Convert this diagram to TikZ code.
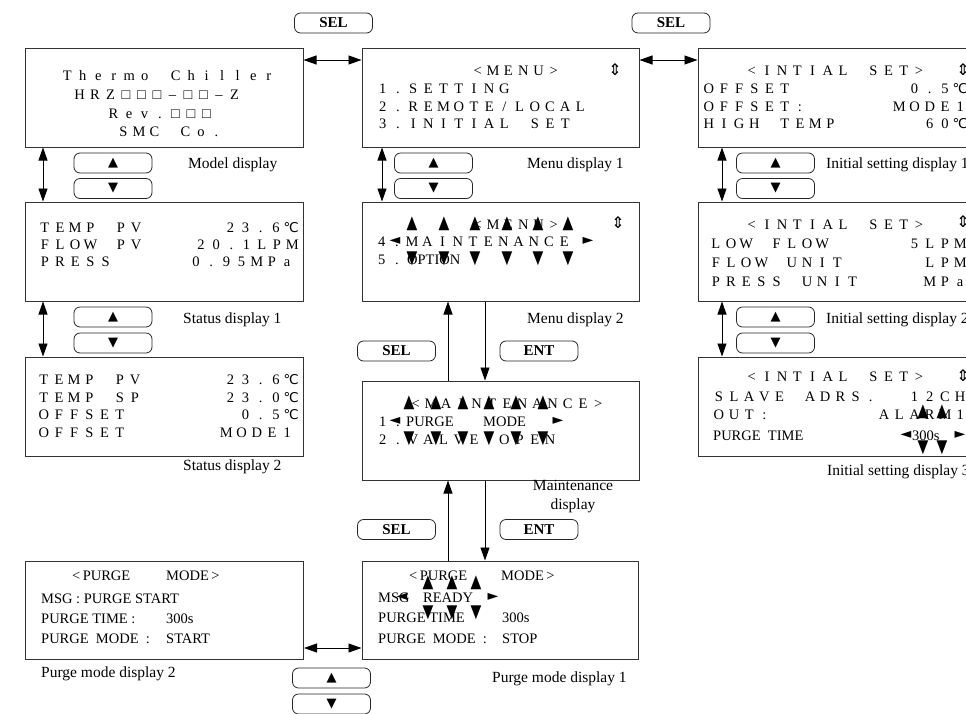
\documentclass[tikz,border=0pt]{standalone}
\usepackage{fontspec}
\setmainfont{Liberation Serif}
\newfontfamily\symf{DejaVu Sans}
\usetikzlibrary{arrows.meta}

% one LCD character per fixed cell
\ExplSyntaxOn
\NewDocumentCommand\fw{O{15.2pt}m}{\str_map_inline:nn{#2}{\makebox[#1][c]{##1}}}
\ExplSyntaxOff
\newcommand\dC{\makebox[15.2pt][c]{\symf\fontsize{13.5}{14}\selectfont ℃}}
\newcommand\updn{{\symf\fontsize{16}{16}\selectfont ⇕}}
\newcommand\tall[1]{\scalebox{1}[1.3]{#1}}

\begin{document}
\begin{tikzpicture}[x=1pt,y=-1pt,
  >={Triangle[length=13pt,width=9pt]},
  disp/.style={draw=black!80, line width=1pt, minimum width=278pt, minimum height=99pt, inner sep=0pt},
  btn/.style={draw=black!85, line width=0.8pt, rounded corners=6pt, minimum width=78pt, minimum height=20pt, inner sep=0pt, font=\symf\fontsize{13}{13}\selectfont},
  key/.style={btn, font=\bfseries\fontsize{15}{15}\selectfont},
  lcd/.style={anchor=base west, inner sep=0pt, font=\fontsize{14.5}{16}\selectfont},
  lcdr/.style={lcd, anchor=base east},
  lcdc/.style={lcd, anchor=base},
  txt/.style={anchor=base west, inner sep=0pt, font=\fontsize{14.5}{16}\selectfont},
  lbl/.style={anchor=base west, inner sep=0pt, font=\fontsize{15.5}{19}\selectfont},
  blink/.style={inner sep=0pt, font=\symf\fontsize{14}{14}\selectfont},
  link/.style={line width=0.9pt}]
\useasboundingbox (0,0) rectangle (966,713);
\clip (0,0) rectangle (966,713);

% display frames
\node[disp] (model) at (164,97.5) {};
\node[disp] (statA) at (164,251.5) {};
\node[disp] (statB) at (164,406.5) {};
\node[disp, minimum height=98pt] (purgeB) at (164.5,610) {};
\node[disp, minimum width=277pt] (menuA) at (500.5,97.5) {};
\node[disp, minimum width=277pt] (menuB) at (500.5,251.5) {};
\node[disp, minimum width=277pt] (maint) at (500.5,430.5) {};
\node[disp, minimum width=276pt, minimum height=98pt] (purgeA) at (500,610) {};
\node[disp, minimum width=292pt] (initA) at (844,97.5) {};
\node[disp, minimum width=292pt] (initB) at (844,251.5) {};
\node[disp, minimum width=292pt] (initC) at (844,406.5) {};

% keys
\node[key] (selT1) at (333.5,23) {SEL};
\node[key] (selT2) at (671,23) {SEL};
\node[key] (selM1) at (396.5,351) {SEL};
\node[key] (entM1) at (539,351) {ENT};
\node[key] (selM2) at (396.5,529.5) {SEL};
\node[key] (entM2) at (539,529.5) {ENT};
\node[btn] (mdlUp) at (113,163) {▲};
\node[btn] (mdlDn) at (113,188.5) {▼};
\node[btn] (stsUp) at (113,317) {▲};
\node[btn] (stsDn) at (113,343) {▼};
\node[btn] (mnuUp) at (433.5,163) {▲};
\node[btn] (mnuDn) at (433.5,188.5) {▼};
\node[btn] (iniUp1) at (775.5,163) {▲};
\node[btn] (iniDn1) at (775.5,188.5) {▼};
\node[btn] (iniUp2) at (775.5,317) {▲};
\node[btn] (iniDn2) at (775.5,343) {▼};
\node[btn] (prgUp) at (331.5,678) {▲};
\node[btn] (prgDn) at (331.5,704) {▼};

% connectors
\coordinate (rowT) at (0,60);
\coordinate (rowB) at (0,648);
\coordinate (colL) at (43,0);
\coordinate (colM) at (382,0);
\coordinate (colR) at (722,0);
\coordinate (colS) at (448,0);
\coordinate (colE) at (485,0);
\draw[link,<->] (model.east |- rowT) -- (menuA.west |- rowT);
\draw[link,<->] (menuA.east |- rowT) -- (initA.west |- rowT);
\draw[link,<->] (purgeB.east |- rowB) -- (purgeA.west |- rowB);
\draw[link,<->] (model.south -| colL) -- (statA.north -| colL);
\draw[link,<->] (statA.south -| colL) -- (statB.north -| colL);
\draw[link,<->] (menuA.south -| colM) -- (menuB.north -| colM);
\draw[link,<->] (initA.south -| colR) -- (initB.north -| colR);
\draw[link,<->] (initB.south -| colR) -- (initC.north -| colR);
\draw[link,->] (maint.north -| colS) -- (menuB.south -| colS);
\draw[link,->] (menuB.south -| colE) -- (maint.north -| colE);
\draw[link,->] (purgeA.north -| colS) -- (maint.south -| colS);
\draw[link,->] (maint.south -| colE) -- (purgeA.north -| colE);

% model display
\node[lcdc] (mdl1) at (168,80) {\fw[15.5pt]{Thermo Chiller}};
\node[lcdc] (mdl2) at (157,99) {\fw[15.5pt]{HRZ□□□–□□–Z}};
\node[lcdc] (mdl3) at (160,118) {\fw[15.5pt]{Rev.□□□}};
\node[lcdc] (mdl4) at (170,136) {\fw[15.5pt]{SMC Co.}};

% status displays
\node[lcd] (stA1) at (37,232) {\fw{TEMP PV}};
\node[lcdr] (stA1v) at (299,232) {\fw{23.6}\dC};
\node[lcd] (stA2) at (37,249) {\fw{FLOW PV}};
\node[lcdr] (stA2v) at (300,249) {\fw{20.1LPM}};
\node[lcd] (stA3) at (37,266) {\fw{PRESS}};
\node[lcdr] (stA3v) at (295,266) {\fw{0.95MPa}};
\node[lcd] (stB1) at (36,384) {\fw{TEMP PV}};
\node[lcdr] (stB1v) at (299,384) {\fw{23.6}\dC};
\node[lcd] (stB2) at (36,402) {\fw{TEMP SP}};
\node[lcdr] (stB2v) at (299,402) {\fw{23.0}\dC};
\node[lcd] (stB3) at (36,419) {\fw{OFFSET}};
\node[lcdr] (stB3v) at (299,419) {\fw{0.5}\dC};
\node[lcd] (stB4) at (36,437) {\fw{OFFSET}};
\node[lcdr] (stB4v) at (295,437) {\fw{MODE1}};

% menu displays
\node[lcd] (mnA0) at (470,75) {\fw{<MENU>}};
\node (mnAud) at (615,70) {\updn};
\node[lcd] (mnA1) at (375,93) {\fw{1.SETTING}};
\node[lcd] (mnA2) at (375,111) {\fw{2.REMOTE/LOCAL}};
\node[lcd] (mnA3) at (375,128) {\fw{3.INITIAL  SET}};
\node[lcd] (mnB0) at (470,229) {\fw{<MENU>}};
\node (mnBud) at (618,223) {\updn};
\node[lcd] (mnB1) at (374,246) {\fw{4.MAINTENANCE}};
\node[lcd] (mnB2) at (374,264) {\fw{5.}};
\node[txt] (mnB2t) at (407,264) {OPTION};

% maintenance display
\node[lcd] (mt0) at (408,408) {\fw{<MAINTENANCE>}};
\node[lcd] (mt1) at (375,426) {\fw{1.}};
\node[txt] (mt1a) at (406,426) {PURGE};
\node[txt] (mt1b) at (483,426) {MODE};
\node[lcd] (mt2) at (375,444) {\fw{2.VALVE OPEN}};

% initial setting displays
\node[lcd] (inA0) at (744,75) {\fw{<INTIAL  SET>}};
\node (inAud) at (963,70) {\updn};
\node[lcd] (inA1) at (701,93) {\fw{OFFSET}};
\node[lcdr] (inA1v) at (968,93) {\fw{0.5}\dC};
\node[lcd] (inA2) at (701,111) {\fw{OFFSET:}};
\node[lcdr] (inA2v) at (968,111) {\fw{MODE1}};
\node[lcd] (inA3) at (701,128) {\fw{HIGH TEMP}};
\node[lcdr] (inA3v) at (968,128) {\fw{60}\dC};
\node[lcd] (inB0) at (744,229) {\fw{<INTIAL  SET>}};
\node (inBud) at (963,222) {\updn};
\node[lcd] (inB1) at (708,248) {\fw{LOW FLOW}};
\node[lcdr] (inB1v) at (968,248) {\fw{5LPM}};
\node[lcd] (inB2) at (708,267) {\fw{FLOW UNIT}};
\node[lcdr] (inB2v) at (968,267) {\fw{LPM}};
\node[lcd] (inB3) at (708,286) {\fw{PRESS UNIT}};
\node[lcdr] (inB3v) at (968,286) {\fw{MPa}};
\node[lcd] (inC0) at (744,381) {\fw{<INTIAL  SET>}};
\node (inCud) at (963,376) {\updn};
\node[lcd] (inC1) at (711,401) {\fw{SLAVE ADRS.}};
\node[lcdr] (inC1v) at (968,401) {\fw{12CH}};
\node[lcd] (inC2) at (711,419) {\fw{OUT:}};
\node[lcdr] (inC2v) at (968,419) {\fw{ALARM1}};
\node[txt] (inC3) at (713,440) {PURGE\ \ TIME};
\node[txt] (inC3v) at (912,440) {300s};

% purge mode displays
\node[txt] (pgB0) at (72,580) {<\,PURGE};
\node[txt] (pgB0b) at (166,580) {MODE\,>};
\node[txt] (pgB1) at (41,603) {MSG : PURGE START};
\node[txt] (pgB2) at (41,623) {PURGE TIME :};
\node[txt] (pgB2v) at (166,623) {300s};
\node[txt] (pgB3) at (41,643) {PURGE\ \ MODE\ \ :};
\node[txt] (pgB3v) at (166,643) {START};
\node[txt] (pgA0) at (409,580) {<\,PURGE};
\node[txt] (pgA0b) at (501,580) {MODE\,>};
\node[txt] (pgA1) at (378,602) {MSG};
\node[txt] (pgA1v) at (423,602) {READY};
\node[txt] (pgA2) at (378,622) {PURGE TIME};
\node[txt] (pgA2v) at (502,622) {300s};
\node[txt] (pgA3) at (378,643) {PURGE\ \ MODE\ \ :};
\node[txt] (pgA3v) at (502,643) {STOP};

% cursor marks
\foreach \x [count=\i] in {412,444,475,507,538,568}{
  \node[blink] (mbU\i) at (\x,224) {\tall{▲}};
  \node[blink] (mbD\i) at (\x,259) {\tall{▼}};
}
\node[blink] (mbL) at (395,241) {◄};
\node[blink] (mbR) at (588,241) {►};
\foreach \x [count=\i] in {409,436,463,489,516,543}{
  \node[blink] (mtU\i) at (\x,403) {\tall{▲}};
  \node[blink] (mtD\i) at (\x,439) {\tall{▼}};
}
\node[blink] (mtL) at (395,421) {◄};
\node[blink] (mtR) at (558,421) {►};
\foreach \x [count=\i] in {428,452,476}{
  \node[blink] (paU\i) at (\x,583) {\tall{▲}};
  \node[blink] (paD\i) at (\x,613) {\tall{▼}};
}
\node[blink] (paL) at (402,597) {◄};
\node[blink] (paR) at (493,597) {►};
\foreach \x [count=\i] in {923,942}{
  \node[blink] (icU\i) at (\x,412) {\tall{▲}};
  \node[blink] (icD\i) at (\x,448) {\tall{▼}};
}
\node[blink] (icL) at (906,435) {◄};
\node[blink] (icR) at (960,435) {►};

% captions
\node[lbl] (capMdl) at (188,168) {Model display};
\node[lbl] (capStA) at (183,323) {Status display 1};
\node[lbl] (capStB) at (183,470) {Status display 2};
\node[lbl] (capMnA) at (527,168) {Menu display 1};
\node[lbl] (capMnB) at (527,323) {Menu display 2};
\node[lbl, anchor=center, align=center] (capMt) at (573,497) {Maintenance\\display};
\node[lbl] (capInA) at (826,168) {Initial setting display 1};
\node[lbl] (capInB) at (826,323) {Initial setting display 2};
\node[lbl] (capInC) at (827,475) {Initial setting display 3};
\node[lbl] (capPgA) at (492,682) {Purge mode display 1};
\node[lbl] (capPgB) at (41,677) {Purge mode display 2};
\end{tikzpicture}
\end{document}
